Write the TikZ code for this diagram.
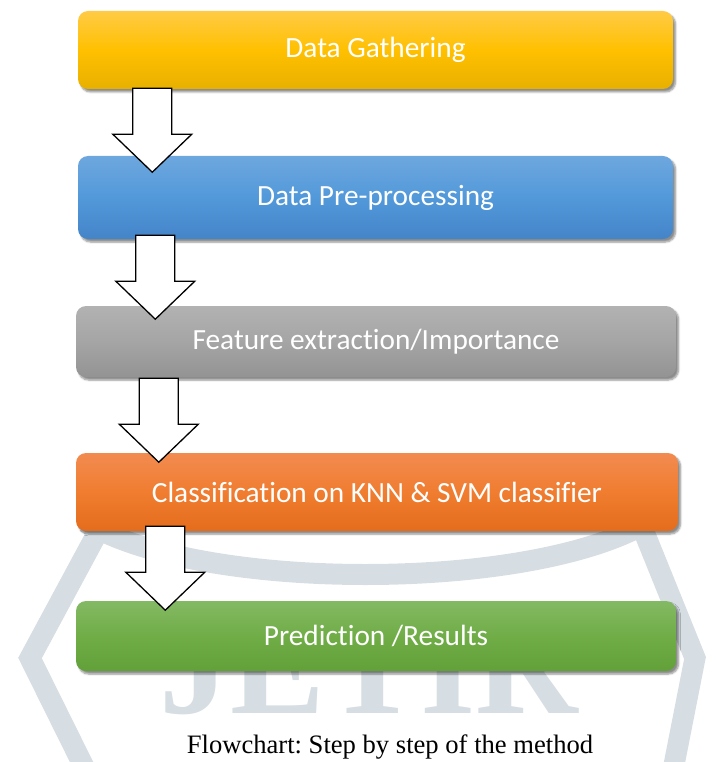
\documentclass[tikz,border=0pt]{standalone}
\usepackage{fontspec}
\setmainfont{Liberation Serif}
\newfontfamily\boxfont[Ligatures={NoCommon}]{Carlito}
\usetikzlibrary{calc,shadows.blur}
\frenchspacing
\definecolor{wm}{HTML}{D6DEE3}
\definecolor{yT}{HTML}{FFCB45}\definecolor{yM}{HTML}{FFC000}\definecolor{yB}{HTML}{E8B000}
\definecolor{bT}{HTML}{6EA7DE}\definecolor{bM}{HTML}{5299DA}\definecolor{bB}{HTML}{4484C8}
\definecolor{gT}{HTML}{B2B2B2}\definecolor{gM}{HTML}{A5A5A5}\definecolor{gB}{HTML}{939393}
\definecolor{oT}{HTML}{F28B50}\definecolor{oM}{HTML}{F07D30}\definecolor{oB}{HTML}{E46C1C}
\definecolor{nT}{HTML}{84B964}\definecolor{nM}{HTML}{70AD47}\definecolor{nB}{HTML}{62A03A}
\tikzset{
  stepbox/.style={rounded corners=10pt, text=white, font=\boxfont\fontsize{29.3}{32}\selectfont,
    inner sep=0pt, blur shadow={shadow xshift=2.5pt, shadow yshift=-3pt, shadow blur steps=6, shadow opacity=45}},
  blockarrow/.style={draw=black, fill=white, line width=1.3pt, line join=miter},
  wmline/.style={draw=wm, line width=21pt}
}
\newcommand\blockarr[1]{%
  \draw[blockarrow] (#1) ++(-19.5,0) -- ++(0,46) -- ++(-20,0) -- ++(39.5,38) -- ++(39.5,-38) -- ++(-20,0) -- ++(0,-46) -- cycle;}
\begin{document}
\begin{tikzpicture}[x=1pt,y=-1pt]
\useasboundingbox (0,0) rectangle (715,762);
% watermark
\begin{scope}
\clip (0,0) rectangle (715,762);
\draw[wmline] (107,515) -- (30,658) -- (88,775);
\draw[wmline] (640,522) -- (695,658) -- (672,775);
\draw[wmline] (85,522) .. controls (200,592) and (530,592) .. (648,522);
\node[text=wm, font=\bfseries\fontsize{142}{142}\selectfont, anchor=base, inner sep=0pt] (wmtext) at (369,713) {JETIR};
\end{scope}
% boxes
\node[stepbox, minimum width=595pt, minimum height=78pt, top color=yT, bottom color=yB, middle color=yM] (b1) at (375.5,50) {Data Gathering};
\node[stepbox, minimum width=595pt, minimum height=83pt, top color=bT, bottom color=bB, middle color=bM] (b2) at (375.5,197.5) {Data Pre-processing};
\node[stepbox, minimum width=600pt, minimum height=71pt, top color=gT, bottom color=gB, middle color=gM] (b3) at (376,341.5) {Feature extraction/Importance};
\node[stepbox, minimum width=602pt, minimum height=78pt, top color=oT, bottom color=oB, middle color=oM] (b4) at (377,492) {Classification on KNN \& SVM classifier};
\node[stepbox, minimum width=600pt, minimum height=70pt, top color=nT, bottom color=nB, middle color=nM] (b5) at (376,636) {Prediction /Results};
% arrows
\coordinate (a1) at ($(b1.south west)+(74.5,-1)$);
\coordinate (a2) at ($(b2.south west)+(77.5,-4)$);
\coordinate (a3) at ($(b3.south west)+(83,1)$);
\coordinate (a4) at ($(b4.south west)+(89.5,-5)$);
\blockarr{a1}
\blockarr{a2}
\blockarr{a3}
\blockarr{a4}
% caption
\node[font=\fontsize{26.6}{30}\selectfont, inner sep=0pt] (cap) at (390,747) {Flowchart: Step by step of the method};
\end{tikzpicture}
\end{document}
